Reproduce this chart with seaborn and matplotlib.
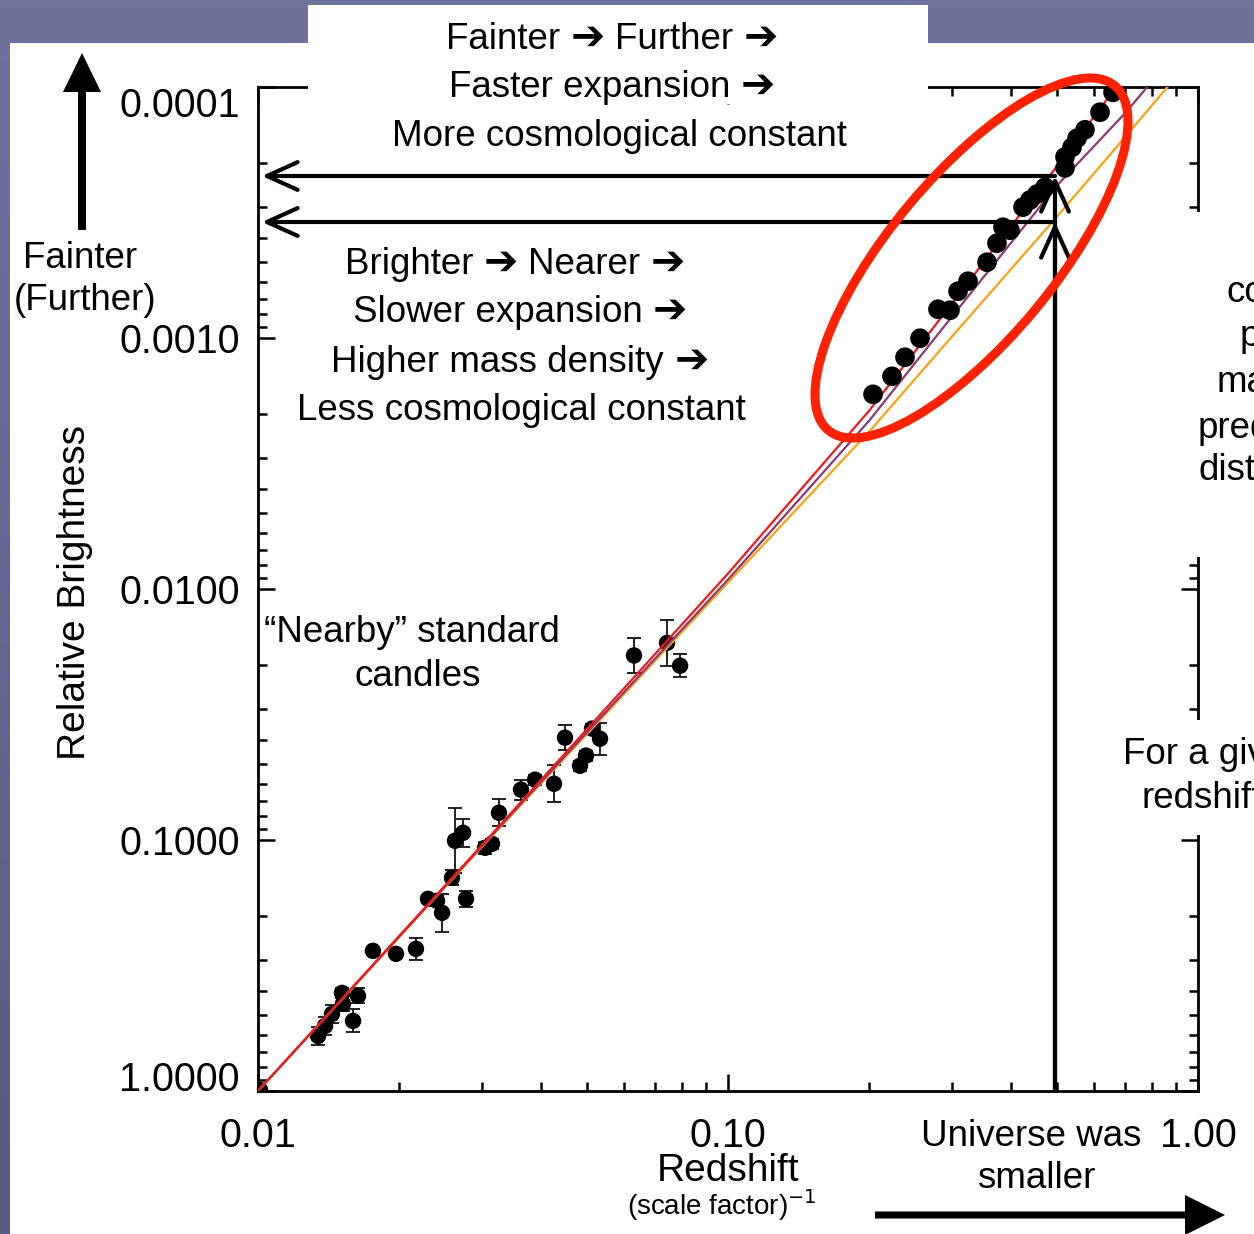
import numpy as np
import pandas as pd
import matplotlib
matplotlib.use("Agg")
import matplotlib.pyplot as plt
import seaborn as sns
from matplotlib.patches import Rectangle, Ellipse, FancyArrow
from matplotlib.colors import LinearSegmentedColormap
from matplotlib.ticker import FixedLocator, FixedFormatter, LogLocator, NullFormatter
from matplotlib.offsetbox import TextArea, HPacker, AnnotationBbox

# --- data ---
# nearby supernovae (redshift, relative brightness, error in dex)
near_z = [0.0101, 0.01342, 0.01389, 0.01437, 0.01509, 0.01516, 0.01593, 0.01632, 0.01756,
          0.01966, 0.02168, 0.02300, 0.02404, 0.02464, 0.02587, 0.02625, 0.02731, 0.02771,
          0.03041, 0.03146, 0.03256, 0.03627, 0.03886, 0.04264, 0.04500, 0.04843, 0.04988,
          0.05136, 0.05342, 0.06310, 0.07417, 0.07907]
near_b = [0.99, 0.6036, 0.5505, 0.4931, 0.4066, 0.4498, 0.5257, 0.4179, 0.2764,
          0.2841, 0.2714, 0.1715, 0.1747, 0.1950, 0.1415, 0.1007, 0.0936, 0.1715,
          0.1074, 0.1035, 0.0779, 0.0630, 0.0575, 0.0597, 0.0391, 0.0506, 0.0461,
          0.0360, 0.0395, 0.0184, 0.0164, 0.0202]
near_err = [0.0, 0.036, 0.036, 0.036, 0.02, 0.03, 0.046, 0.03, 0.016,
            0.012, 0.044, 0.016, 0.02, 0.075, 0.03, 0.13, 0.055, 0.032,
            0.024, 0.02, 0.054, 0.04, 0.02, 0.073, 0.05, 0.02, 0.02,
            0.02, 0.064, 0.068, 0.09, 0.045]

# distant supernovae
far_z = [0.2035, 0.2233, 0.2380, 0.2562, 0.2797, 0.2967, 0.3086, 0.3241, 0.3557, 0.3735,
         0.3847, 0.3981, 0.4243, 0.4391, 0.4544, 0.4726, 0.5212, 0.5212, 0.5394, 0.5529,
         0.5749, 0.6188, 0.6594]
far_b = [0.001676, 0.001421, 0.001193, 0.001002, 0.000768, 0.000775, 0.000651, 0.000594,
         0.000499, 0.000419, 0.000362, 0.000372, 0.000301, 0.000282, 0.000267, 0.000251,
         0.000210, 0.000190, 0.000174, 0.000160, 0.000148, 0.000126, 0.000105]

# model curves
model_z = [0.01, 0.03, 0.1, 0.2, 0.3, 0.5, 0.7, 1.0]
red_b = [1.0, 0.1045, 0.00868, 0.001941, 0.000727, 0.000208, 0.0000896, 0.0000351]
purple_b = [1.0, 0.1054, 0.00917, 0.002128, 0.000819, 0.000248, 0.000127, 0.0000576]
orange_b = [1.0, 0.1062, 0.00942, 0.002354, 0.000984, 0.000330, 0.000158, 0.0000718]

xtick_vals = [0.01, 0.1, 1.0]
xtick_labels = ["0.01", "0.10", "1.00"]
ytick_vals = [0.0001, 0.001, 0.01, 0.1, 1.0]
ytick_labels = ["0.0001", "0.0010", "0.0100", "0.1000", "1.0000"]

sns.set_theme(style="ticks")
plt.rcParams["font.family"] = ["Liberation Sans", "DejaVu Sans"]
plt.rcParams["text.color"] = "black"
plt.rcParams["axes.labelcolor"] = "black"
plt.rcParams["xtick.color"] = "black"
plt.rcParams["ytick.color"] = "black"

W, H = 1254, 1234
fig = plt.figure(figsize=(W / 100, H / 100), dpi=100)

# --- slide background ---
bg = fig.add_axes([0, 0, 1, 1], zorder=0)
bg.axis("off")
grad_cmap = LinearSegmentedColormap.from_list("slide", ["#6f739c", "#585b81"])
bg.imshow(np.linspace(0, 1, 256).reshape(-1, 1), cmap=grad_cmap, aspect="auto",
          extent=[0, W, H, 0])
bg.add_patch(Rectangle((10, 43), W - 10, H - 43, color="white", lw=0))
bg.set_xlim(0, W)
bg.set_ylim(H, 0)

# --- main plot ---
ax = fig.add_axes([258 / W, 1 - 1091 / H, 940 / W, 1004 / H], zorder=1)
ax.patch.set_alpha(0)
ax.set_xscale("log")
ax.set_yscale("log")

nb = np.array(near_b)
ne = np.array(near_err)
lo = nb - nb * 10 ** (-ne)
hi = nb * 10 ** ne - nb
ax.errorbar(near_z, near_b, yerr=[lo, hi], fmt="none", ecolor="#111111",
            elinewidth=1.3, capsize=5, capthick=1.3, zorder=2)
near_df = pd.DataFrame({"z": near_z, "b": near_b})
sns.scatterplot(data=near_df, x="z", y="b", ax=ax, s=140, color="black",
                edgecolor="none", zorder=3, legend=False)

for vals, col in [(orange_b, "#ffa010"), (purple_b, "#8e3a70"), (red_b, "#f01818")]:
    sns.lineplot(x=model_z, y=vals, ax=ax, color=col, lw=1.6, sort=False,
                 estimator=None, zorder=4)

far_df = pd.DataFrame({"z": far_z, "b": far_b})
sns.scatterplot(data=far_df, x="z", y="b", ax=ax, s=200, color="black",
                edgecolor="none", zorder=5, legend=False)

ax.set_xlim(0.01, 1.0)
ax.set_ylim(1.0, 0.0001)

ax.xaxis.set_major_locator(FixedLocator(xtick_vals))
ax.xaxis.set_major_formatter(FixedFormatter(xtick_labels))
ax.yaxis.set_major_locator(FixedLocator(ytick_vals))
ax.yaxis.set_major_formatter(FixedFormatter(ytick_labels))
ax.xaxis.set_minor_locator(LogLocator(base=10, subs=range(2, 10), numticks=20))
ax.yaxis.set_minor_locator(LogLocator(base=10, subs=range(2, 10), numticks=20))
ax.xaxis.set_minor_formatter(NullFormatter())
ax.yaxis.set_minor_formatter(NullFormatter())

ax.tick_params(which="both", direction="in", top=True, right=True, width=1.8, color="black")
ax.tick_params(which="major", length=12)
ax.tick_params(which="minor", length=6.5)
ax.tick_params(axis="y", which="major", pad=13, labelsize=28.5)
ax.tick_params(axis="x", which="major", pad=18.5, labelsize=28.5)
for sp in ax.spines.values():
    sp.set_linewidth(2.0)
    sp.set_color("black")
    sp.set_visible(True)

yt = ax.yaxis.get_major_ticks()
yt[0].label1.set_va("top")
yt[-1].label1.set_va("baseline")

ax.set_ylabel("Relative Brightness", fontsize=28)
ax.yaxis.label.set_va("center")
ax.yaxis.set_label_coords((75 - 258) / 940, (1091 - 592) / 1004)
ax.set_xlabel("Redshift", fontsize=28)
ax.xaxis.label.set_va("center")
ax.xaxis.set_label_coords((728 - 258) / 940, (1091 - 1171) / 1004)

# --- slide annotations (pixel coordinates) ---
ov = fig.add_axes([0, 0, 1, 1], zorder=2)
ov.axis("off")
ov.set_xlim(0, W)
ov.set_ylim(H, 0)

# white text boxes that sit over the plot frame
for x0, y0, x1, y1 in [(308, 5, 928, 104), (1177, 212, W, 557), (1070, 720, W, 835)]:
    ov.add_patch(Rectangle((x0, y0), x1 - x0, y1 - y0, color="white", lw=0, zorder=1))

fs = 26.5
ARROW = "\u2794"


def arrow_line(words, x, y):
    # words separated by heavy arrows, packed on one baseline
    boxes = []
    for w in words:
        if w == ARROW:
            props = dict(fontsize=fs + 3, color="black", fontweight="bold",
                         family=["DejaVu Sans"])
        else:
            props = dict(fontsize=fs, color="black")
        boxes.append(TextArea(w, textprops=props))
    pack = HPacker(children=boxes, align="baseline", pad=0, sep=7.5)
    ab = AnnotationBbox(pack, (x, y), xycoords="data", frameon=False,
                        box_alignment=(0.5, 0.5), pad=0, zorder=5)
    ov.add_artist(ab)


arrow_line(["Fainter", ARROW, "Further", ARROW], 612, 38)
arrow_line(["Faster expansion", ARROW], 612, 86)
arrow_line(["Brighter", ARROW, "Nearer", ARROW], 515, 263)
arrow_line(["Slower expansion", ARROW], 520, 311)
arrow_line(["Higher mass density", ARROW], 520, 361)

texts = [
    ("More cosmological constant", 619, 136),
    ("Less cosmological constant", 521, 410),
    ("\u201cNearby\u201d standard", 412, 633),
    ("candles", 418, 676),
    ("Universe was", 1031, 1137),
    ("smaller", 1036, 1179),
    ("Fainter", 80, 258),
    ("(Further)", 85, 300),
]
for s, x, y in texts:
    ov.text(x, y, s, fontsize=fs, ha="center", va="center", zorder=5)

ov.text(722, 1205, "(scale factor)$^{-1}$", fontsize=20, ha="center", va="center", zorder=5)

# partly hidden side notes, cut by the slide edge
for s, x, y in [("compared", 1227, 292), ("points", 1240, 337), ("match", 1217, 383),
                ("predicted", 1198, 428), ("distance", 1198, 470),
                ("For a given", 1123, 755), ("redshift", 1141, 798)]:
    ov.text(x, y, s, fontsize=fs, ha="left", va="center", zorder=5, clip_on=True)

# arrows
chev = dict(arrowstyle="->,head_length=1.1,head_width=0.5", lw=3, color="black",
            mutation_scale=20, shrinkA=0, shrinkB=0)
for yy in (176, 222):
    ov.annotate("", xy=(262, yy), xytext=(1055, yy), arrowprops=chev, zorder=6)
    ov.annotate("", xy=(1055, yy), xytext=(1055, 1091), arrowprops=chev, zorder=6)

ov.add_patch(FancyArrow(82, 230, 0, -177, width=8, head_width=38, head_length=39,
                        length_includes_head=True, color="black", lw=0, zorder=6))
ov.add_patch(FancyArrow(875, 1215, 350, 0, width=7, head_width=40, head_length=40,
                        length_includes_head=True, color="black", lw=0, zorder=6))

ov.add_patch(Ellipse((971.5, 258), 448, 164, angle=-50.25, fill=False,
                     edgecolor="#ff2200", lw=6.5, zorder=7))

fig.savefig("out.png", dpi=100)
